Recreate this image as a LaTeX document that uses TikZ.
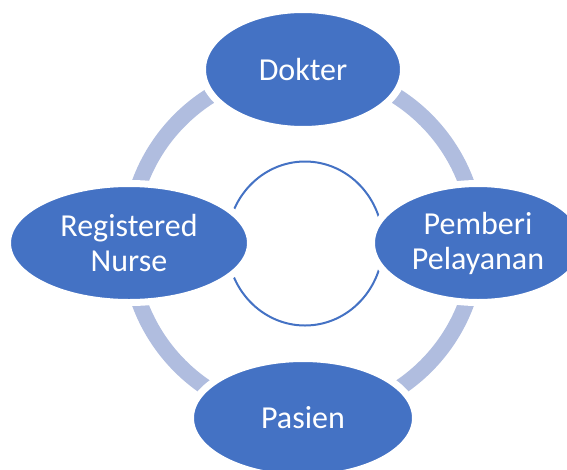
\documentclass[tikz,border=0pt]{standalone}
\usepackage{fontspec}
\setmainfont{Carlito}
\usetikzlibrary{shapes.geometric}
\definecolor{nodeblue}{RGB}{68,114,196}
\definecolor{ringblue}{RGB}{176,189,223}
\begin{document}
\begin{tikzpicture}[x=1pt,y=-1pt,
  role/.style={ellipse, fill=nodeblue, draw=white, line width=7pt, inner sep=0pt, outer sep=0pt,
    text=white, font=\fontsize{32}{35}\selectfont, align=center},
  ringline/.style={draw=ringblue, line width=16pt},
  hubline/.style={draw=nodeblue, line width=2pt}]
\useasboundingbox (0,0) rectangle (567,469);
\coordinate (c) at (303,243);
\coordinate (h) at (305,243.5);
\draw[ringline] (c) circle[radius=174];
\draw[hubline] (h) ellipse[x radius=78, y radius=82];
\node[role, minimum width=201, minimum height=120] (dok) at (303,69.5) {Dokter};
\node[role, minimum width=243, minimum height=119] (rn) at (129,243) {Registered\\Nurse};
\node[role, minimum width=213, minimum height=119] (pp) at (478,243) {Pemberi\\Pelayanan};
\node[role, minimum width=225, minimum height=119] (pas) at (303,418) {Pasien};
\end{tikzpicture}
\end{document}
